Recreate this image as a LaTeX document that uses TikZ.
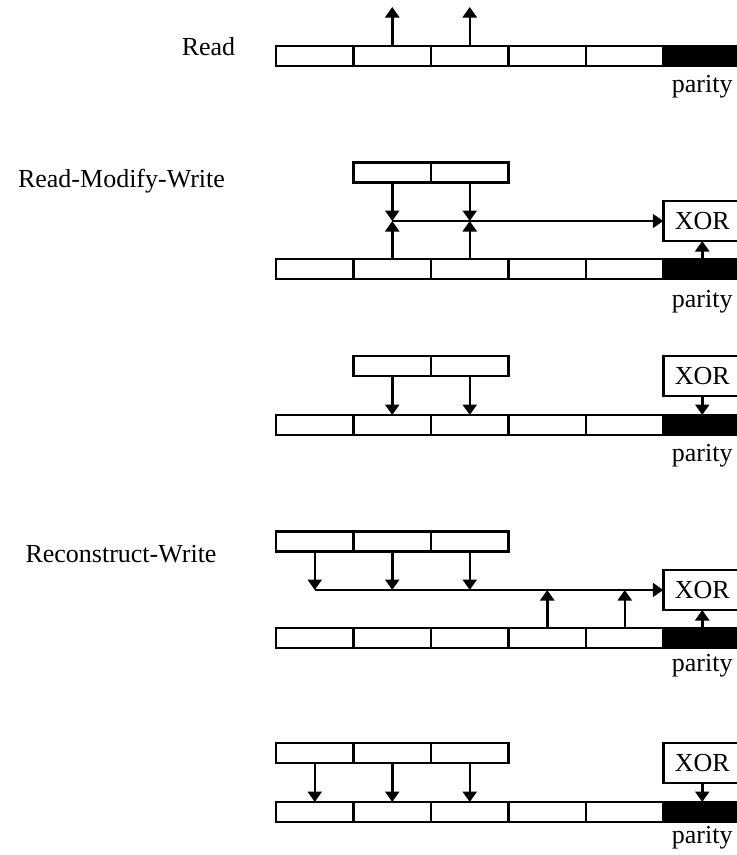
\documentclass[tikz,border=0pt]{standalone}
\usepackage{fontspec}
\setmainfont{Liberation Serif}
\usetikzlibrary{arrows.meta}
\tikzset{
  cell/.style={draw, line width=2.7pt, minimum width=77.5pt, minimum height=20pt, inner sep=0pt, outer sep=0pt},
  paritycell/.style={cell, fill=black},
  xorbox/.style={draw, fill=white, line width=2.7pt, minimum width=78pt, minimum height=40pt, inner sep=0pt, outer sep=0pt},
  flow/.style={line width=2.5pt, -{Triangle[width=14pt,length=10.5pt]}},
  lbl/.style={inner sep=0pt, anchor=base},
}
% one disk stripe: five data blocks and a black parity block
\newcommand{\diskrow}[2]{%
  \foreach \i in {1,...,5}{\node[cell] (#1\i) at ({276+77.5*(\i-0.5)},#2) {};}
  \node[paritycell] (#16) at ({276+77.5*5.5},#2) {};
}
\begin{document}
\begin{tikzpicture}[x=1pt,y=-1pt,font=\fontsize{26pt}{30pt}\selectfont]
\useasboundingbox (0,0) rectangle (737,855);

% ---------- Read ----------
\node[lbl] (lRead) at (208.5,55) {Read};
\diskrow{A}{56}
\coordinate (A2t) at (392.25,7);
\coordinate (A3t) at (469.75,7);
\draw[flow] (A2.north) -- (A2t);
\draw[flow] (A3.north) -- (A3t);
\node[lbl] (pA) at (702.25,92) {parity};

% ---------- Read-Modify-Write: read phase ----------
\node[lbl] (lRMW) at (121.5,187) {Read-Modify-Write};
\node[cell] (B2buf) at (392.25,172.5) {};
\node[cell] (B3buf) at (469.75,172.5) {};
\diskrow{B}{269}
\coordinate (Bj2) at (392.25,221);
\coordinate (Bj3) at (469.75,221);
\draw[flow] (B2buf.south) -- (Bj2);
\draw[flow] (B3buf.south) -- (Bj3);
\draw[flow] (B2.north) -- (Bj2);
\draw[flow] (B3.north) -- (Bj3);
\node[xorbox] (Bx) at (702.25,221) {XOR};
\draw[flow] (Bj2) -- (Bx.west);
\draw[flow] (B6.north) -- (Bx.south);
\node[lbl] (pB) at (702.25,307) {parity};

% ---------- Read-Modify-Write: write phase ----------
\node[cell] (C2buf) at (392.25,366) {};
\node[cell] (C3buf) at (469.75,366) {};
\diskrow{C}{425}
\node[xorbox] (Cx) at (702.25,376) {XOR};
\draw[flow] (C2buf.south) -- (C2.north);
\draw[flow] (C3buf.south) -- (C3.north);
\draw[flow] (Cx.south) -- (C6.north);
\node[lbl] (pC) at (702.25,461) {parity};

% ---------- Reconstruct-Write: read phase ----------
\node[lbl] (lRW) at (121,562) {Reconstruct-Write};
\node[cell] (D1buf) at (314.75,541.5) {};
\node[cell] (D2buf) at (392.25,541.5) {};
\node[cell] (D3buf) at (469.75,541.5) {};
\diskrow{D}{638}
\coordinate (Dj1) at (314.75,590);
\coordinate (Dj2) at (392.25,590);
\coordinate (Dj3) at (469.75,590);
\coordinate (Dj4) at (547.25,590);
\coordinate (Dj5) at (624.75,590);
\node[xorbox] (Dx) at (702.25,590) {XOR};
\draw[flow] (Dj1) -- (Dx.west);
\draw[flow] (D1buf.south) -- (Dj1);
\draw[flow] (D2buf.south) -- (Dj2);
\draw[flow] (D3buf.south) -- (Dj3);
\draw[flow] (D4.north) -- (Dj4);
\draw[flow] (D5.north) -- (Dj5);
\draw[flow] (D6.north) -- (Dx.south);
\node[lbl] (pD) at (702.25,671) {parity};

% ---------- Reconstruct-Write: write phase ----------
\node[cell] (E1buf) at (314.75,753) {};
\node[cell] (E2buf) at (392.25,753) {};
\node[cell] (E3buf) at (469.75,753) {};
\diskrow{E}{812}
\node[xorbox] (Ex) at (702.25,763) {XOR};
\draw[flow] (E1buf.south) -- (E1.north);
\draw[flow] (E2buf.south) -- (E2.north);
\draw[flow] (E3buf.south) -- (E3.north);
\draw[flow] (Ex.south) -- (E6.north);
\node[lbl] (pE) at (702.25,843) {parity};
\end{tikzpicture}
\end{document}
